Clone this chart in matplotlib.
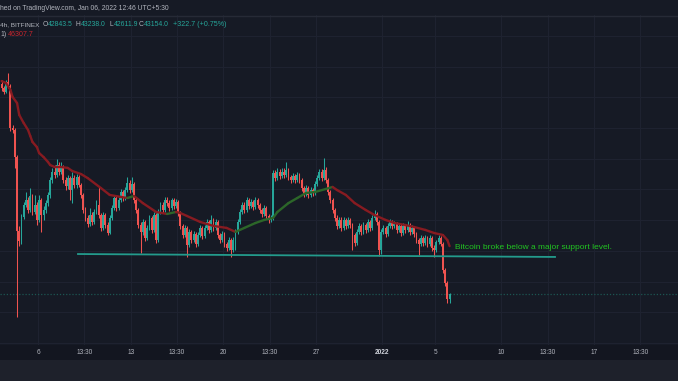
import numpy as np
import matplotlib
matplotlib.use('Agg')
import matplotlib.pyplot as plt
from matplotlib.collections import LineCollection
from matplotlib.patches import Rectangle
from matplotlib.lines import Line2D
from matplotlib import transforms
from matplotlib import font_manager as fm

# ---------------- data (BTC/USD 4h, Bitfinex) ----------------
first_open = 56870
closes = [56610,56350,57000,56740,54000,53870,52110,47290,46640,48200,
          48980,49310,48660,49570,48530,48980,48010,49310,48330,48660,
          49110,49640,50610,51130,50940,51590,51130,51460,50610,50220,
          50740,49960,50740,50290,50810,50290,49640,48660,48140,47750,
          48330,47880,48530,48980,48330,47490,48330,47680,47160,48140,
          48790,49440,48790,49310,49830,49440,49960,50420,49960,50350,
          49310,48660,47680,47230,47880,46830,47490,48140,47360,48330,
          46700,48530,48980,48660,49310,49110,48790,49310,48920,49180,
          48460,47620,47030,47490,46380,47230,46700,47100,46440,47030,
          47490,46960,47490,47880,47360,48010,47490,47880,47030,46700,
          47100,46440,46180,46700,46050,46700,47230,47880,48530,48980,
          48660,49310,48920,49180,48850,49310,48980,48660,48400,48790,
          48270,48010,48140,51070,50740,51130,50870,51130,50940,51260,
          50810,50610,50870,50610,50940,50610,50090,49700,50090,49640,
          49960,49770,50350,50740,51130,50740,51260,50610,49830,49310,
          48660,48140,47620,48010,47490,48010,47620,48010,47680,47030,
          46510,47230,47620,47230,47680,47360,47880,47490,48140,48400,
          47880,46050,47230,47490,47100,47620,47880,47620,47750,47360,
          47620,47160,47620,47360,47680,47230,47490,47100,46700,46440,
          46830,46510,46830,46440,46830,46180,46050,46570,46830,46440,
          44750,43900,42843.5,43154.0]
highs = [57130,56740,57130,57580,56870,54200,54000,52240,47620,48400,
         49180,49830,49510,50090,49700,49640,49180,49640,49440,48920,
         49310,49830,50810,51390,51590,51980,51790,51790,51590,50810,
         50940,50870,51130,50940,51000,50940,50420,49770,48850,48330,
         48790,48530,48720,49310,50160,48460,48530,48460,47880,48330,
         48980,49640,49570,49510,50030,49960,50160,50810,50610,50810,
         50480,49440,48790,47880,48070,48010,47680,48330,48270,48530,
         48460,48720,49180,49180,49510,49510,49310,49440,49440,49380,
         49310,48590,47750,47680,47620,47420,47360,47290,47230,47230,
         47680,47620,47680,48070,48010,48330,48140,48070,48010,47160,
         47290,47230,46570,46900,46830,46900,47420,48070,48720,49180,
         49180,49510,49440,49380,49310,49510,49440,49110,48790,48980,
         48920,48400,48330,51260,51260,51390,51330,51390,51390,51790,
         51390,50940,51070,51000,51130,51070,50740,50220,50290,50220,
         50160,50090,50550,50940,51330,51330,52050,51460,50740,49960,
         49440,48790,48330,48200,48200,48200,48140,48200,48140,47810,
         47160,47420,47810,47750,47880,47810,48070,48010,48330,48660,
         48530,48010,47420,47680,47620,47810,48070,48010,47940,47880,
         47810,47750,47810,47750,47940,47810,47680,47620,47230,46830,
         47030,46960,47030,46960,47030,46960,46380,46700,47030,46960,
         46570,44880,44030,43238.0]
lows = [56410,56220,56280,56610,53800,53680,51390,41690,46310,46440,
        48070,48850,48460,48530,48330,48400,47680,47880,47230,48010,
        48460,48920,49440,50420,50740,50810,50940,51000,50420,49960,
        50030,49310,49110,50090,50090,50160,49440,48460,47940,47550,
        47620,47680,47750,48400,48140,47290,47360,47490,47030,47100,
        48010,48660,48590,48660,49180,49250,49310,49830,49770,49830,
        49110,48460,47490,45860,47030,46640,46700,47360,47160,47230,
        46510,46570,48400,48460,48530,48920,48590,48660,48720,48790,
        48270,47420,46830,46900,45600,46250,46510,46570,46250,46310,
        46900,46770,46830,47360,47160,47230,47290,47360,46830,46510,
        46570,46250,45990,46050,45600,45920,46050,47100,47750,48400,
        48460,48530,48720,48790,48660,48720,48790,48460,48200,48270,
        48070,47810,47880,48010,50550,50610,50680,50740,50740,50810,
        50610,50420,50480,50420,50480,50420,49900,49510,49570,49440,
        49510,49570,49640,50220,50610,50550,50610,50420,49640,49110,
        48460,47940,47420,47490,47290,47360,47420,47490,47490,46050,
        46310,46380,47100,47030,47100,47160,47230,47290,47360,48010,
        47680,45660,45790,47100,46900,46960,47490,47420,47490,47160,
        47230,46960,47030,47160,47230,47030,47100,46900,46510,45730,
        46310,46310,46380,46250,46310,45990,45600,45920,46440,46310,
        44550,43710,42610,42611.9]

# moving average (sampled at candle indices)
ma_idx = [0,2,4,5,7,8,10,12,13,14,16,17,19,21,22,24,27,30,32,36,
          39,45,49,54,57,60,64,70,75,79,81,84,90,96,102,106,110,115,119,123,
          125,130,134,138,142,147,150,152,156,160,165,169,174,178,183,187,192,196,200,202,
          203]
ma_vals = [57060,56930,56480,56020,55630,54850,54330,53870,53480,53090,
           52760,52370,52110,51790,51590,51460,51460,51400,51200,51000,
           50740,50090,49640,49510,49440,49570,49110,48530,48400,48530,
           48460,48270,47880,47620,47490,47230,47490,47810,48010,48140,
           48530,49110,49440,49770,49830,50030,50160,49960,49640,49110,
           48660,48330,48010,47810,47680,47550,47360,47160,47030,46700,
           46307.7]

# support trendline (days from Dec 6, price)
support_days = [3.02, 39.05]
support_prices = [45790, 45600]

tick_days = [0, 3.5, 7, 10.5, 14, 17.5, 21, 26, 30, 35, 38.5, 42, 45.5]
tick_labels = ['6', '13:30', '13', '13:30', '20', '13:30', '27', '2022', '5', '10', '13:30', '17', '13:30']

ohlc_labels = ['O', 'H', 'L', 'C']
ohlc_values = ['42843.5', '43238.0', '42611.9', '43154.0']
change_text = '+322.7 (+0.75%)'
ma_text = '46307.7'
note = 'Bitcoin broke below a major support level.'

# ---------------- style ----------------
W, H = 678, 381
BG = '#161a25'
UP, DOWN = '#26a69a', '#ef5350'
GRID = '#1e2230'
TXT = '#b2b5be'

names = {f.name for f in fm.fontManager.ttflist}
if 'Liberation Sans Narrow' in names:
    FAM = ['Liberation Sans Narrow', 'DejaVu Sans']; SC = 1.0
else:
    FAM = ['Liberation Sans', 'DejaVu Sans']; SC = 0.84

fig = plt.figure(figsize=(W / 100, H / 100), dpi=100)
fig.patch.set_facecolor(BG)

def fy(y):
    return 1 - y / H

# bottom bands
fig.patches.append(Rectangle((0, 0), 1, fy(360), transform=fig.transFigure,
                             facecolor='#1e212b', edgecolor='none', zorder=0))
fig.patches.append(Rectangle((0, fy(360)), 1, 15 / H, transform=fig.transFigure,
                             facecolor='#131620', edgecolor='none', zorder=0))
fig.lines.append(Line2D([0, 1], [fy(15.5), fy(15.5)], transform=fig.transFigure,
                        color='#262a36', lw=1.0))

ax = fig.add_axes([0, fy(345), 1, 330 / H])
ax.set_facecolor(BG)
for s in ax.spines.values():
    s.set_visible(False)
ax.set_xticks([]); ax.set_yticks([])
ax.set_xlim(-38 / 13.24, (W - 38) / 13.24)
ax.set_ylim(39863, 61363)

for d in tick_days:
    ax.axvline(d, color=GRID, lw=0.8, zorder=0)
for p in range(40000, 62000, 2000):
    ax.axhline(p, color=GRID, lw=0.8, zorder=0)

# candles
n = len(closes)
start_day = -2.75
x = start_day + np.arange(n) / 6.0
c = np.array(closes, dtype=float)
o = np.concatenate([[first_open], c[:-1]])
hi = np.array(highs, dtype=float)
lo = np.array(lows, dtype=float)
cols = [UP if cc >= oo else DOWN for oo, cc in zip(o, c)]
ax.vlines(x, lo, hi, colors=cols, lw=0.75, zorder=3)
bottoms = np.minimum(o, c)
heights = np.maximum(np.abs(c - o), 40)
ax.bar(x, heights, bottom=bottoms, width=0.14, color=cols, linewidth=0, zorder=4)

# moving average, coloured by direction
mx = start_day + np.array(ma_idx) / 6.0
mv = np.array(ma_vals, dtype=float)
pts = np.column_stack([mx, mv])
segs = np.stack([pts[:-1], pts[1:]], axis=1)
mcols = ['#2c6629' if mv[i + 1] > mv[i] else '#871b21' for i in range(len(mv) - 1)]
lc = LineCollection(segs, colors=mcols, linewidths=1.7, capstyle='round', zorder=5)
ax.add_collection(lc)

# last price dotted line
ax.axhline(closes[-1], color='#1c5652', lw=0.9, ls=(0, (1, 1.5)), zorder=1)

# support trendline
ax.plot(support_days, support_prices, color='#239b8c', lw=1.3, zorder=6)

# annotation
ax.text(31.5, 46183, note, color='#21c521', fontsize=7.2 * SC, family=FAM,
        va='center', ha='left', zorder=7)

# x-axis labels
tr = transforms.blended_transform_factory(ax.transData, fig.transFigure)
for d, lab in zip(tick_days, tick_labels):
    bold = lab == '2022'
    fig.text(d, fy(353), lab, transform=tr, ha='center', va='center',
             fontsize=5.6 * SC, family=FAM, color='#d1d4dc' if bold else TXT,
             fontweight='bold' if bold else 'normal')

# header texts
fig.text(0, fy(8), 'hed on TradingView.com, Jan 06, 2022 12:46 UTC+5:30',
         color=TXT, fontsize=5.8 * SC, family=FAM, va='center', ha='left')
fig.text(0, fy(24.5), '4h, BITFINEX', color=TXT, fontsize=5.5 * SC, family=FAM,
         va='center', ha='left')
lab_x = [43, 76, 109, 139]
for lx, lab, val in zip(lab_x, ohlc_labels, ohlc_values):
    fig.text(lx / W, fy(24.5), lab, color=TXT, fontsize=5.8 * SC, family=FAM,
             va='center', ha='left')
    fig.text((lx + 4.6) / W, fy(24.5), val, color=UP, fontsize=5.9 * SC, family=FAM,
             va='center', ha='left')
fig.text(173 / W, fy(24.5), change_text, color=UP, fontsize=6.1 * SC, family=FAM,
         va='center', ha='left')
fig.text(0, fy(34), '1)', color=TXT, fontsize=5.8 * SC, family=FAM,
         va='center', ha='left')
fig.text(8 / W, fy(34), ma_text, color='#c9262e', fontsize=6.1 * SC, family=FAM,
         va='center', ha='left')

fig.savefig('out.png', dpi=100, facecolor=BG)
